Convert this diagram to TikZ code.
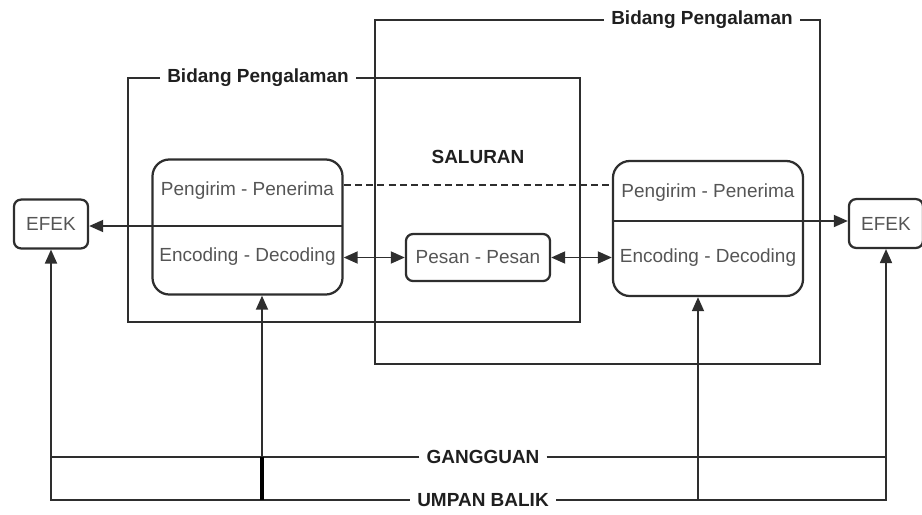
\documentclass[tikz,border=0pt]{standalone}
\usepackage{fontspec}
\setmainfont{Liberation Sans}
\usepackage{tikz}
\usetikzlibrary{arrows.meta,positioning}
\definecolor{lncol}{HTML}{2E2E2E}
\definecolor{txtcol}{HTML}{555555}
\newcommand\fsz{\fontsize{13.5pt}{16pt}\selectfont}
\tikzset{
  blok/.style   ={draw=lncol,line width=1.6pt,rounded corners=12pt,
                  minimum width=4.75cm,minimum height=3.375cm,inner sep=0pt},
  kotak/.style  ={draw=lncol,line width=1.6pt,rounded corners=5pt,
                  text=txtcol,font=\fsz,inner sep=0pt},
  efek/.style   ={kotak,minimum width=1.85cm,minimum height=1.22cm},
  pesanbox/.style={kotak,minimum width=3.6cm,minimum height=1.175cm},
  isi/.style    ={text=txtcol,font=\fsz,inner sep=0pt},
  judul/.style  ={text=black!88,font=\fsz\bfseries,inner sep=5pt},
  garis/.style  ={draw=lncol,line width=1.4pt},
  putus/.style  ={garis,dash pattern=on 5pt off 3pt},
  ln/.style     ={-{Triangle[length=10pt,width=8.5pt]},draw=lncol,line width=1.4pt},
  dbl/.style    ={{Triangle[length=10pt,width=8.5pt]}-{Triangle[length=10pt,width=8.5pt]},
                  draw=lncol,line width=1.4pt},
}

\begin{document}
\begin{tikzpicture}[x=0.025cm, y=-0.025cm]
\useasboundingbox (0,0) rectangle (922,514);

%% ---------------- fields of experience ----------------
\node[judul] (bpL) at (258,78) {Bidang Pengalaman};
\node[judul] (bpR) at (702,20) {Bidang Pengalaman};
\coordinate (fL1) at (128,78);  \coordinate (fL2) at (580,322);
\coordinate (fR1) at (375,20);  \coordinate (fR2) at (820,364);
\draw[garis] (bpL.west) -- (fL1) |- (fL2) |- (bpL.east);
\draw[garis] (bpR.west) -- (fR1) |- (fR2) |- (bpR.east);

%% ---------------- nodes ----------------
\node[blok] (blokL) at (247.5,227) {};
\node[blok] (blokR) at (708,228.5) {};
\node[isi] at (247.5,191) {Pengirim - Penerima};
\node[isi] at (247.5,257) {Encoding - Decoding};
\node[isi] at (708,193) {Pengirim - Penerima};
\node[isi] at (708,258) {Encoding - Decoding};

\node[judul] (sal) at (478,157) {SALURAN};
\node[pesanbox] (pesan) at (478,257.5) {Pesan - Pesan};

\node[efek] (efL) at (51,224) {EFEK};
\node[efek] (efR) at (886,223.5) {EFEK};

\node[judul] (gg) at (483,457) {GANGGUAN};
\node[judul] (ub) at (483,500) {UMPAN BALIK};

%% ---------------- connectors ----------------
\coordinate (dvL) at (343,226);
\coordinate (dvR) at (613,221);
\draw[garis] (blokL.west |- dvL) -- (dvL);
\draw[ln] (dvL) -- (dvL -| efL.east);
\draw[garis] (dvR) -- (blokR.east |- dvR);
\draw[ln] (dvR) -- (dvR -| efR.west);

\draw[putus] (blokL.east |- 0,185) -- (blokR.west |- 0,185);

\draw[dbl] (blokL.east |- pesan) -- (pesan.west);
\draw[dbl] (pesan.east) -- (blokR.west |- pesan);

%% noise and feedback lines
\draw[garis] (gg.west) -- (gg.west -| efL);
\draw[garis] (gg.east) -- (gg.east -| efR);
\draw[ln] (ub.west) -| (efL.south);
\draw[ln] (ub.east) -| (efR.south);

\coordinate (pL) at (262,500);
\coordinate (pR) at (698,500);
\draw[ln] (pL) -- (pL |- blokL.south);
\draw[line width=2.6pt,draw=black] (pL) -- (pL |- gg);
\draw[ln] (pR) -- (pR |- blokR.south);

\end{tikzpicture}
\end{document}
